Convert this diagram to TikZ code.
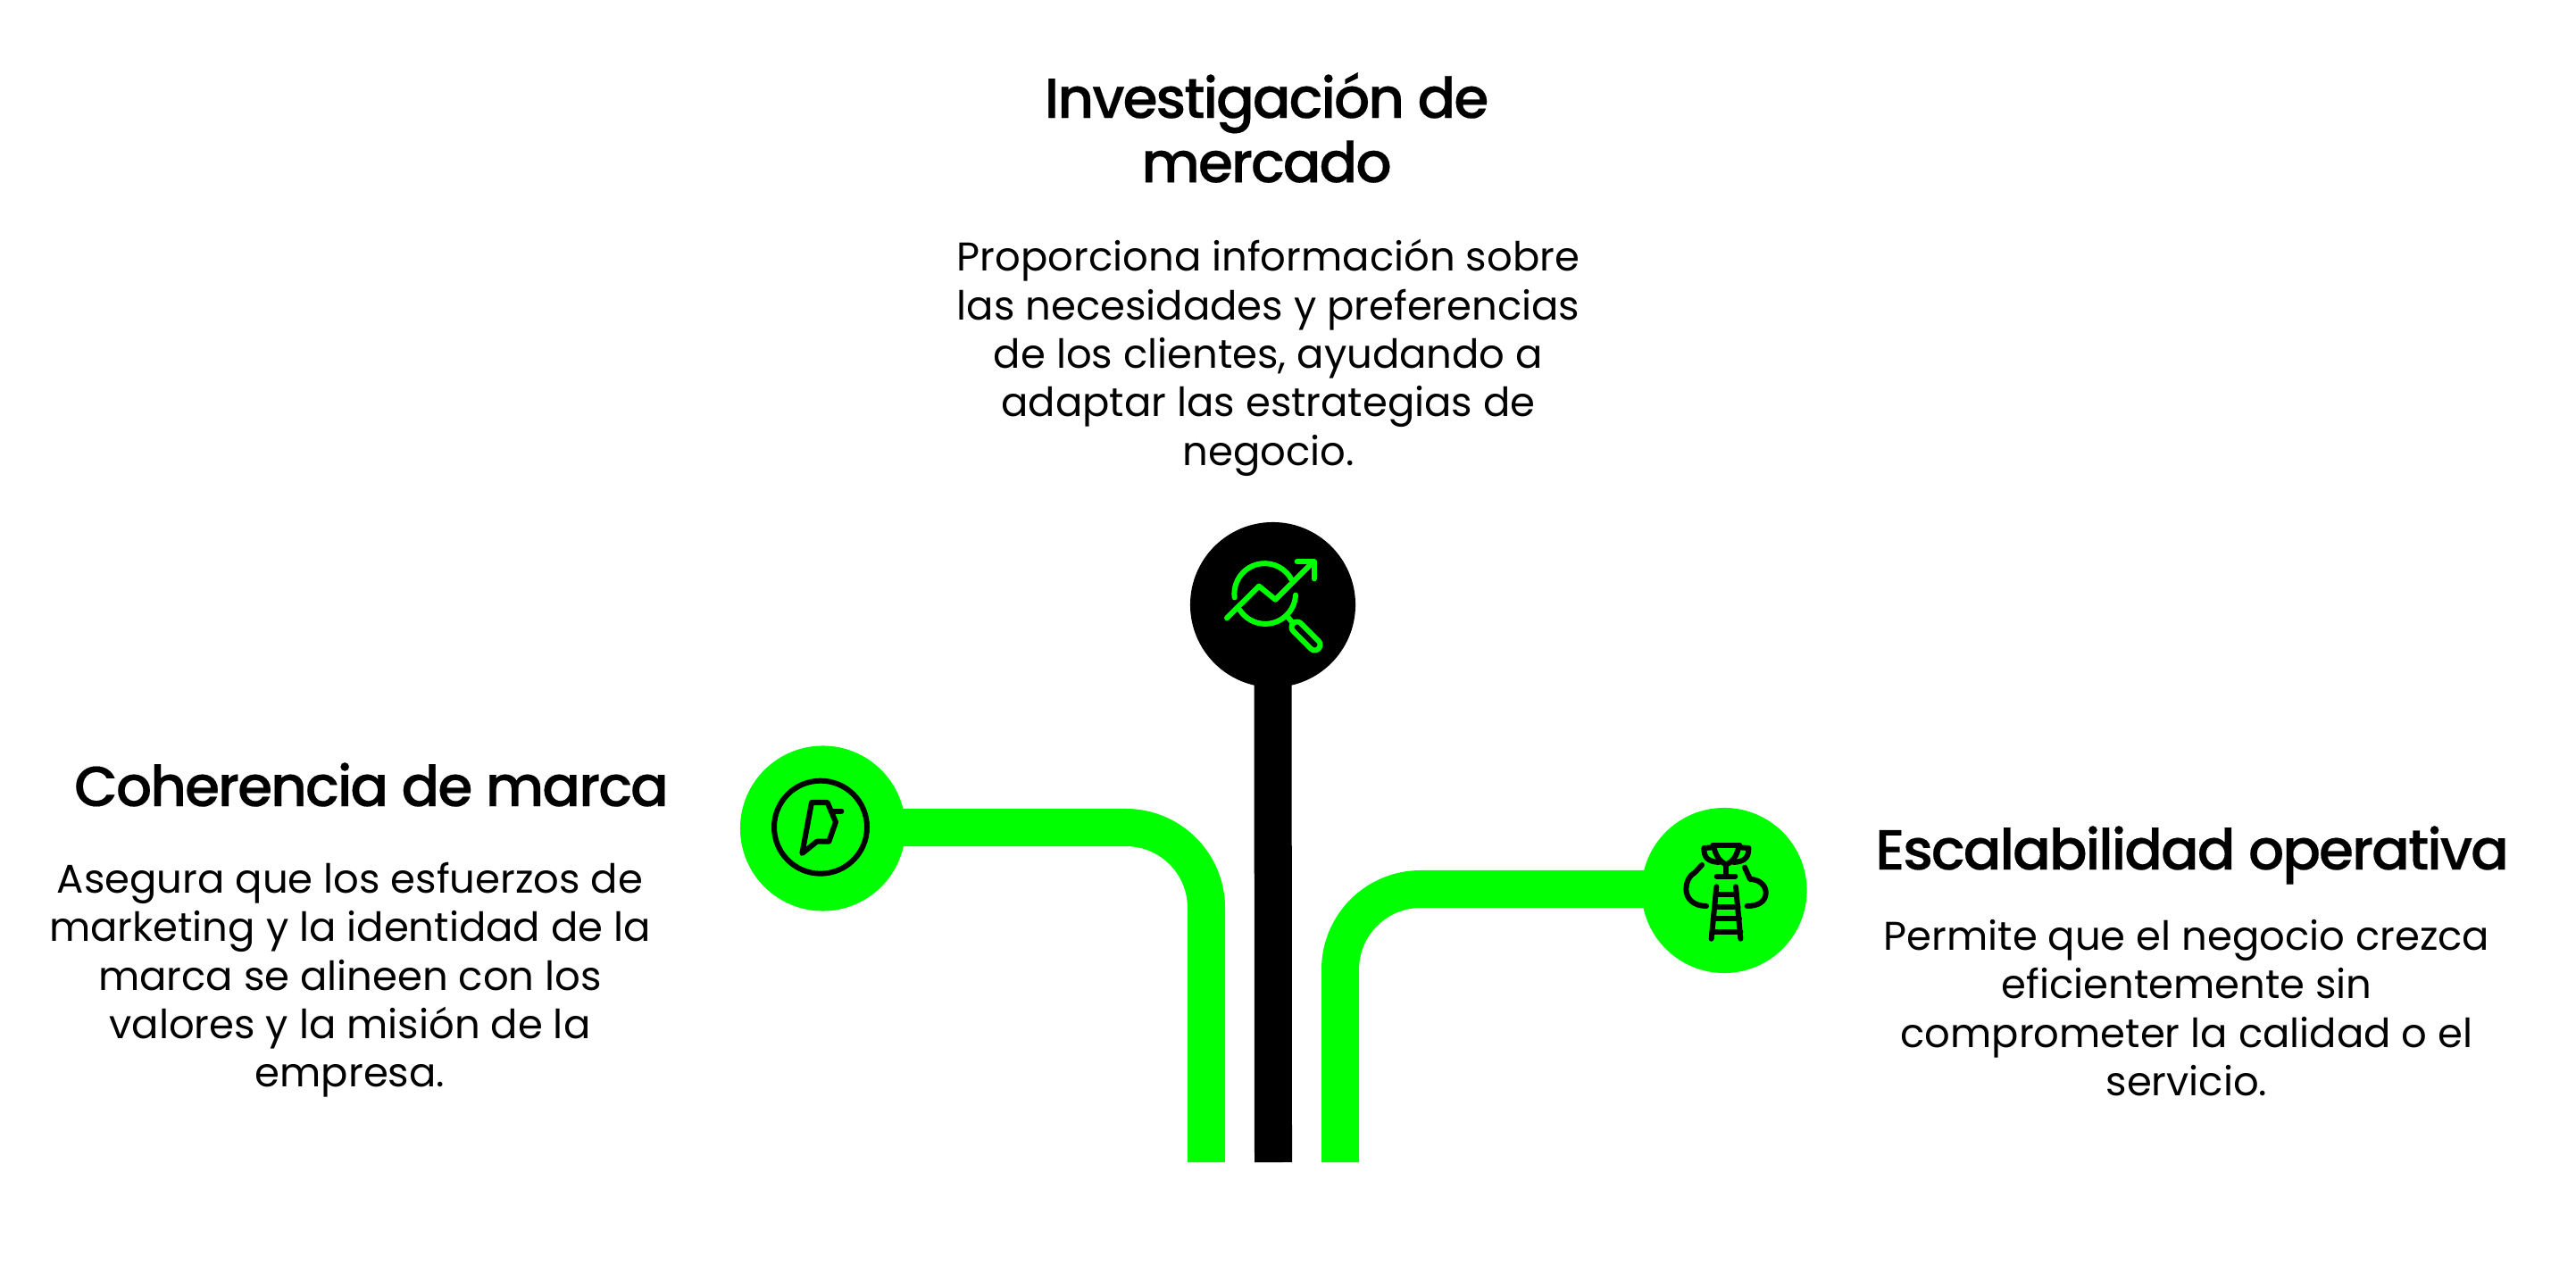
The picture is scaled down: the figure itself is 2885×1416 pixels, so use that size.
\documentclass[tikz,border=0pt]{standalone}
\usepackage{fontspec}
\setmainfont{Poppins}
\newfontfamily\headfont[LetterSpace=-3.4,FakeBold=0.25]{Poppins Medium}
\definecolor{brandgreen}{RGB}{0,255,0}
\tikzset{every node/.style={inner sep=0pt,outer sep=0pt},
  hub/.style={circle,minimum size=1.85cm},
  headtext/.style={font=\headfont\fontsize{18}{20.5}\selectfont,align=center},
  bodytext/.style={font=\fontsize{12.77}{15.45}\selectfont,align=center},
  bar/.style={line width=0.42cm,rounded corners=0.9cm},
  iconline/.style={line width=0.06cm,line cap=round,line join=round}}
\begin{document}
\begin{tikzpicture}[x=0.01cm,y=-0.01cm]
  \useasboundingbox (0,0) rectangle (2885,1416);
  \node[hub,fill=black] (research) at (1425.5,677.5) {};
  \node[hub,fill=brandgreen] (brand) at (921.5,928) {};
  \node[hub,fill=brandgreen] (scale) at (1931,997.5) {};
  \coordinate (researchfoot) at (1426,1302);
  \coordinate (brandfoot) at (1351,1302);
  \coordinate (scalefoot) at (1501,1302);
  \draw[bar,black] (researchfoot) -- (research.center);
  \draw[bar,brandgreen] (brandfoot) |- ([yshift=0.01cm]brand.center);
  \draw[bar,brandgreen] (scalefoot) |- ([yshift=0.015cm]scale.center);
  % chart and lens
  \begin{scope}[iconline,brandgreen,shift={(1320,570)},scale=1/3]
    \draw (188,298) arc[start angle=173,end angle=332,radius=102];
    \draw (393,290) arc[start angle=3,end angle=147,radius=102];
    \draw (162,367) -- (270,260) -- (325,305) -- (450,180);
    \draw (398,177) -- (455,177) -- (455,235);
    \draw (365,362) -- (385,385);
    \draw[rounded corners=0.06cm] (398,372) -- (483,457) -- (457,483) -- (372,398) -- cycle;
  \end{scope}
  % coin
  \begin{scope}[iconline,black,shift={(810,820)},scale=1/3]
    \draw (327,320) circle[radius=156];
    \draw (265,408) -- (297,237) -- (350,237) -- (378,303) -- (355,368) -- (315,368) -- cycle;
    \draw (365,266) -- (397,266);
  \end{scope}
  % trophy on a ladder
  \begin{scope}[iconline,black,shift={(1830,890)},scale=1/3]
    \draw (265,170) -- (355,170);
    \draw (268,172) .. controls (272,205) and (290,228) .. (310,235) .. controls (330,228) and (348,205) .. (352,172);
    \draw (265,178) -- (235,180) .. controls (235,210) and (245,225) .. (285,228);
    \draw (355,178) -- (385,180) .. controls (385,210) and (375,225) .. (335,228);
    \draw (310,235) -- (310,272);
    \draw (278,275) -- (340,275);
    \draw (228,237) -- (205,262) .. controls (185,272) and (175,295) .. (175,318) .. controls (175,350) and (200,375) .. (243,375);
    \draw (372,245) -- (390,285) .. controls (420,285) and (443,305) .. (443,330) .. controls (443,358) and (420,375) .. (380,375);
    \draw (277,310) -- (260,485);
    \draw (342,310) -- (358,485);
    \foreach \y/\xa in {335/275,378/270,418/266,462/262}
      \draw (\xa,\y) -- ({620-\xa},\y);
  \end{scope}
  \node[headtext] (researchhead) at (1418.5,143) {Investigación de\\mercado};
  \node[bodytext] (researchtext) at (1420.5,401) {Proporciona información sobre\\las necesidades y preferencias\\de los clientes, ayudando a\\adaptar las estrategias de\\negocio.};
  \node[headtext] (brandhead) at (416,879) {Coherencia de marca};
  \node[bodytext] (brandtext) at (392,1098) {Asegura que los esfuerzos de\\marketing y la identidad de la\\marca se alineen con los\\valores y la misión de la\\empresa.};
  \node[headtext] (scalehead) at (2455,958) {Escalabilidad operativa};
  \node[bodytext] (scaletext) at (2449,1129) {Permite que el negocio crezca\\eficientemente sin\\comprometer la calidad o el\\servicio.};
\end{tikzpicture}
\end{document}
